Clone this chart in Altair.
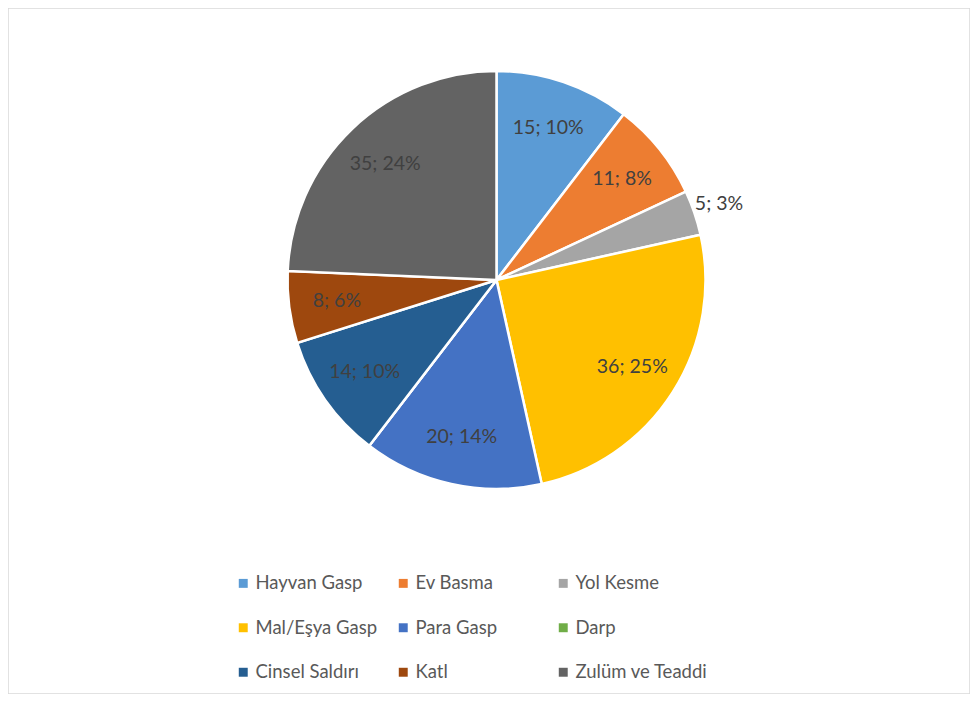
import altair as alt
import pandas as pd

categories = ["Hayvan Gasp", "Ev Basma", "Yol Kesme", "Mal/Eşya Gasp", "Para Gasp",
              "Darp", "Cinsel Saldırı", "Katl", "Zulüm ve Teaddi"]
values = [15, 11, 5, 36, 20, 0, 14, 8, 35]
colors = ["#5B9BD5", "#ED7D31", "#A5A5A5", "#FFC000", "#4472C4",
          "#70AD47", "#255E91", "#9E480E", "#636363"]

total = sum(values)
labels = [f"{v}; {round(v / total * 100)}%" if v > 0 else "" for v in values]
df = pd.DataFrame({
    "cat": categories,
    "val": values,
    "idx": list(range(len(categories))),
    "lab": labels,
})

W, H = 962, 686
CX, CY = 488.5, 272
R = 209
FONT = "Lato"

base = alt.Chart(df).encode(
    theta=alt.Theta("val:Q", stack=True),
    order=alt.Order("idx:Q", sort="ascending"),
    x=alt.value(CX),
    y=alt.value(CY),
)

pie = base.mark_arc(stroke="white", strokeWidth=2.5).encode(
    radius=alt.value(R),
    color=alt.Color(
        "cat:N",
        scale=alt.Scale(domain=categories, range=colors),
        sort=categories,
        legend=alt.Legend(
            title=None, orient="none", legendX=226, legendY=566,
            direction="horizontal",
            columns=3, gridAlign="all", columnPadding=6, rowPadding=25.5,
            symbolType="square", symbolSize=80, symbolStrokeWidth=0,
            labelFont=FONT, labelFontSize=18.5, labelColor="#595959",
            labelOffset=3, labelLimit=300,
        ),
    ),
)

inside = base.transform_calculate(
    t="datum.val >= 6 ? datum.lab : ''"
).mark_text(font=FONT, fontSize=19.5, color="#404040").encode(
    radius=alt.value(161), text="t:N"
)

outside = base.transform_calculate(
    t="datum.val < 6 ? datum.lab : ''"
).mark_text(font=FONT, fontSize=19.5, color="#404040").encode(
    radius=alt.value(235), text="t:N"
)

chart = alt.layer(pie, inside, outside).properties(
    width=W, height=H, padding=0, autosize=alt.AutoSizeParams(type="none")
).configure_view(stroke="#D9D9D9", strokeWidth=1.5)

chart.save("out.html", embed_options={"renderer": "svg", "actions": False})
